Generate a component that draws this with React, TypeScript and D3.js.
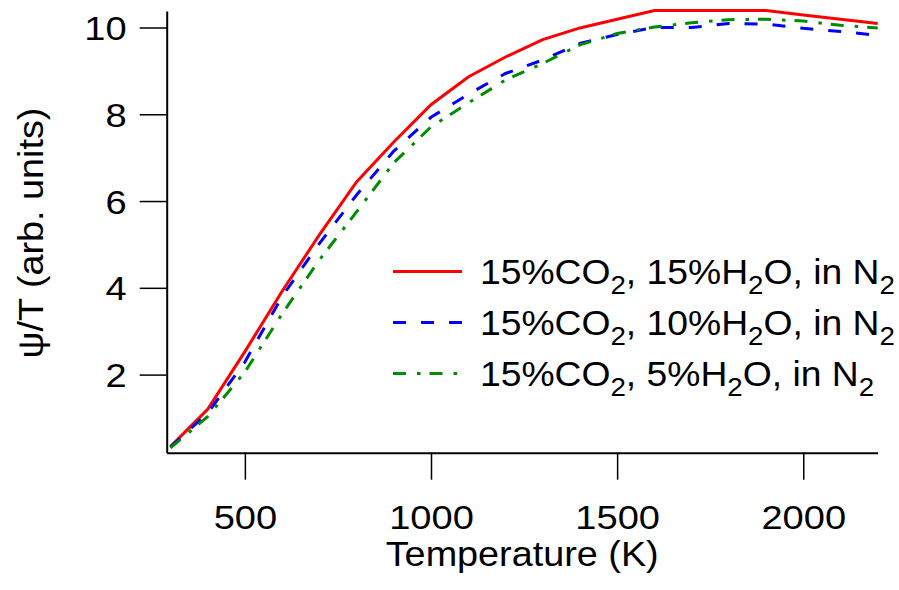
import React, { useRef, useEffect } from 'react';
import * as d3 from 'd3';

// Temperature grid (K) and the three ψ/T curves
const temps = [300, 400, 500, 600, 700, 800, 900, 1000, 1100, 1200, 1300, 1400, 1500, 1600, 1700, 1800, 1900, 2000, 2100, 2200];
const h2o15 = [0.34, 1.2, 2.53, 3.92, 5.22, 6.44, 7.36, 8.22, 8.86, 9.32, 9.72, 9.99, 10.19, 10.39, 10.39, 10.39, 10.39, 10.29, 10.19, 10.09];
const h2o10 = [0.33, 1.11, 2.29, 3.8, 5.02, 6.14, 7.15, 7.93, 8.46, 8.94, 9.25, 9.63, 9.84, 10.0, 10.0, 10.09, 10.08, 9.98, 9.91, 9.82];
const h2o5 = [0.31, 1.03, 2.06, 3.4, 4.64, 5.75, 6.88, 7.71, 8.26, 8.79, 9.17, 9.6, 9.86, 10.01, 10.11, 10.18, 10.19, 10.15, 10.05, 9.99];

const xTicks = [500, 1000, 1500, 2000];
const yTicks = [2, 4, 6, 8, 10];
const legendH2O = ['15', '10', '5'];

const series = [
  { values: h2o15, color: '#ff0000', dash: null },
  { values: h2o10, color: '#0000ff', dash: '13,15' },
  { values: h2o5, color: '#008c00', dash: '13,11,3.5,9' },
];

const W = 899;
const H = 590;
const FONT = 'Liberation Sans, Arial, Helvetica, sans-serif';
const SX = 1.12; // glyphs in the reference are slightly wide

const App = () => {
  const svgRef = useRef<SVGSVGElement>(null);

  useEffect(() => {
    const svg = d3.select(svgRef.current);
    svg.selectAll('*').remove();

    const x = d3.scaleLinear().domain([290, 2200]).range([166.7, 877.7]);
    const y = d3.scaleLinear().domain([0.2, 10.38]).range([452.7, 11]);

    // ejes
    const xAxis = svg.append('g')
      .attr('transform', `translate(0,${y(0.2)})`)
      .call(d3.axisBottom(x).tickValues(xTicks).tickFormat(d3.format('d')).tickSize(27).tickSizeOuter(0).tickPadding(0));
    const yAxis = svg.append('g')
      .attr('transform', `translate(${x(290)},0)`)
      .call(d3.axisLeft(y).tickValues(yTicks).tickFormat(d3.format('d')).tickSize(27).tickSizeOuter(0).tickPadding(0));

    [xAxis, yAxis].forEach(a => {
      a.select('.domain').attr('stroke', '#000').attr('stroke-width', 2);
      a.selectAll('.tick line').attr('stroke', '#000').attr('stroke-width', 1.5);
      a.selectAll('.tick text')
        .attr('fill', '#000')
        .style('font-family', FONT)
        .style('font-size', '34px')
        .attr('x', null).attr('y', null).attr('dy', null);
    });
    xAxis.selectAll('.tick text')
      .attr('text-anchor', 'middle')
      .attr('transform', `translate(0,76) scale(${SX},1)`);
    yAxis.selectAll('.tick text')
      .attr('text-anchor', 'end')
      .attr('transform', `translate(-40,12) scale(${SX},1)`);

    // títulos
    svg.append('text')
      .attr('transform', `translate(${(x(290) + x(2200)) / 2},566) scale(1.08,1)`)
      .attr('text-anchor', 'middle')
      .style('font-family', FONT).style('font-size', '35px')
      .text('Temperature (K)');
    svg.append('text')
      .attr('transform', `translate(43,233) rotate(-90) scale(1.08,1)`)
      .attr('text-anchor', 'middle')
      .style('font-family', FONT).style('font-size', '35px')
      .text('ψ/T (arb. units)');

    // curvas
    const line = d3.line<number>()
      .x((_, i) => x(temps[i]))
      .y(d => y(d));
    series.forEach(s => {
      svg.append('path')
        .datum(s.values)
        .attr('fill', 'none')
        .attr('stroke', s.color)
        .attr('stroke-width', 3)
        .attr('stroke-dasharray', s.dash)
        .attr('d', line);
    });

    // leyenda
    const rowY = [271.5, 322.5, 373.5];
    series.forEach((s, i) => {
      const g = svg.append('g').attr('transform', `translate(0,${rowY[i]})`);
      g.append('line')
        .attr('x1', 393).attr('x2', 462)
        .attr('stroke', s.color).attr('stroke-width', 3)
        .attr('stroke-dasharray', s.dash);
      const t = g.append('text')
        .attr('transform', `translate(480,12) scale(1.065,1)`)
        .style('font-family', FONT).style('font-size', '35px');
      t.append('tspan').text('15%CO');
      t.append('tspan').attr('dy', 10).style('font-size', '26px').text('2');
      t.append('tspan').attr('dy', -10).text(`, ${legendH2O[i]}%H`);
      t.append('tspan').attr('dy', 10).style('font-size', '26px').text('2');
      t.append('tspan').attr('dy', -10).text('O, in N');
      t.append('tspan').attr('dy', 10).style('font-size', '26px').text('2');
    });
  }, []);

  return (
    <div style={{ position: 'absolute', left: 0, top: 0, background: '#fff' }}>
      <svg ref={svgRef} width={W} height={H} style={{ display: 'block' }}></svg>
    </div>
  );
};

export default App;
